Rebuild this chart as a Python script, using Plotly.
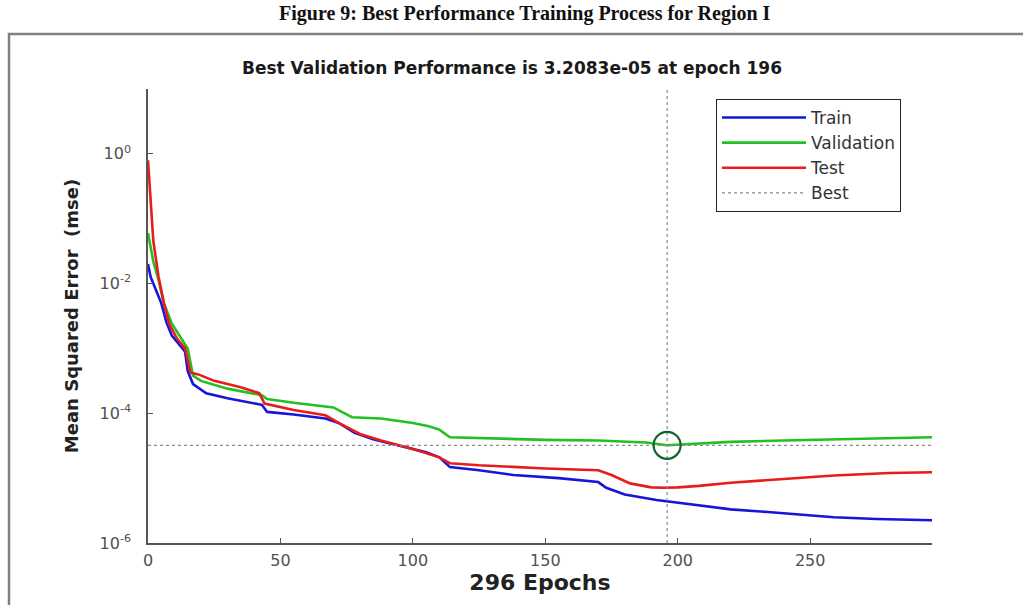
import plotly.graph_objects as go

# Training record (mean squared error per epoch) for the network of Region I
train_epochs = [0, 1, 3, 5, 7, 9, 12, 14, 15, 17, 22, 30, 43, 45, 55, 67, 72, 78, 85, 95,
                105, 110, 114, 125, 138, 155, 170, 173, 180, 192, 200, 208, 220, 234, 259, 275, 296]
train_mse = [2.0e-2, 1.26e-2, 7.94e-3, 5.0e-3, 2.5e-3, 1.58e-3, 1.12e-3, 8.9e-4, 4.47e-4, 2.82e-4,
             2.04e-4, 1.7e-4, 1.35e-4, 1.05e-4, 9.6e-5, 8.3e-5, 7.1e-5, 5.0e-5, 3.98e-5, 3.16e-5,
             2.51e-5, 2.09e-5, 1.48e-5, 1.32e-5, 1.12e-5, 1.0e-5, 8.7e-6, 7.1e-6, 5.6e-6, 4.6e-6,
             4.2e-6, 3.8e-6, 3.3e-6, 3.0e-6, 2.5e-6, 2.34e-6, 2.24e-6]

val_epochs = [0, 1, 2, 4, 6, 9, 12, 15, 17, 20, 30, 43, 45, 55, 70, 77, 88, 100, 106, 110,
              114, 130, 150, 170, 188, 196, 205, 220, 240, 260, 280, 296]
val_mse = [6.0e-2, 3.5e-2, 2.2e-2, 1.12e-2, 5.0e-3, 2.4e-3, 1.58e-3, 1.0e-3, 3.8e-4, 3.16e-4,
           2.4e-4, 1.9e-4, 1.66e-4, 1.45e-4, 1.23e-4, 8.7e-5, 8.3e-5, 7.1e-5, 6.3e-5, 5.6e-5,
           4.27e-5, 4.07e-5, 3.89e-5, 3.8e-5, 3.55e-5, 3.2083e-5, 3.39e-5, 3.63e-5, 3.8e-5, 3.98e-5,
           4.17e-5, 4.27e-5]

test_epochs = [0, 1, 2, 4, 6, 8, 11, 14, 16, 19, 25, 35, 42, 44, 55, 67, 72, 80, 88, 100,
               110, 114, 125, 150, 170, 175, 182, 190, 195, 200, 208, 220, 234, 259, 280, 296]
test_mse = [7.94e-1, 2.0e-1, 4.57e-2, 1.26e-2, 5.0e-3, 2.4e-3, 1.41e-3, 1.0e-3, 4.27e-4, 3.98e-4,
            3.16e-4, 2.51e-4, 2.04e-4, 1.41e-4, 1.12e-4, 9.3e-5, 7.1e-5, 4.8e-5, 3.8e-5, 2.82e-5,
            2.09e-5, 1.7e-5, 1.58e-5, 1.41e-5, 1.32e-5, 1.12e-5, 8.3e-6, 7.2e-6, 7.1e-6, 7.2e-6,
            7.6e-6, 8.5e-6, 9.3e-6, 1.1e-5, 1.2e-5, 1.23e-5]

best_epoch = 196
best_perf = 3.2083e-05
n_epochs = 296

y_tick_vals = [1e-6, 1e-4, 1e-2, 1e0]
y_tick_text = ["10<sup>-6</sup>", "10<sup>-4</sup>", "10<sup>-2</sup>", "10<sup>0</sup>"]
x_tick_vals = [0, 50, 100, 150, 200, 250]

W, H = 1023, 605
ML, MR, MT, MB = 148, 91, 89, 62
PW, PH = W - ML - MR, H - MT - MB


def px(x):
    return (x - ML) / PW


def py(y):
    return (H - MB - y) / PH


SANS = "DejaVu Sans, Verdana, sans-serif"

fig = go.Figure()

fig.add_trace(go.Scatter(x=train_epochs, y=train_mse, mode="lines", name="Train",
                         line=dict(color="#1616d6", width=2.6)))
fig.add_trace(go.Scatter(x=val_epochs, y=val_mse, mode="lines", name="Validation",
                         line=dict(color="#22c022", width=2.6)))
fig.add_trace(go.Scatter(x=test_epochs, y=test_mse, mode="lines", name="Test",
                         line=dict(color="#e81c1c", width=2.6)))
# dotted guide lines through the best validation point
fig.add_trace(go.Scatter(x=[0, n_epochs], y=[best_perf, best_perf], mode="lines", name="Best",
                         line=dict(color="#8a8a8a", width=1.2, dash="dot")))
fig.add_trace(go.Scatter(x=[best_epoch, best_epoch], y=[1e-6, 1e1], mode="lines",
                         showlegend=False, line=dict(color="#8a8a8a", width=1.2, dash="dot")))
fig.add_trace(go.Scatter(x=[best_epoch], y=[best_perf], mode="markers", showlegend=False,
                         marker=dict(symbol="circle-open", size=27, color="#12642c",
                                     line=dict(color="#12642c", width=2.2))))

tick_font = dict(family=SANS, size=16, color="#505050")

fig.update_xaxes(range=[0, n_epochs], tickvals=x_tick_vals, ticks="inside", ticklen=5,
                 tickcolor="#555555", showline=True, linecolor="#555555", linewidth=1.5,
                 showgrid=False, zeroline=False, tickfont=tick_font, ticklabelstandoff=2,
                 title=dict(text="<b>296 Epochs</b>", standoff=4,
                            font=dict(family=SANS, size=22, color="#222222")))
fig.update_yaxes(type="log", range=[-6, 1], tickvals=y_tick_vals, ticktext=y_tick_text,
                 ticks="inside", ticklen=5, tickcolor="#555555", showline=True,
                 linecolor="#555555", linewidth=1.5, showgrid=False, zeroline=False,
                 tickfont=tick_font, ticklabelstandoff=12,
                 title=dict(text="<b>Mean Squared Error  (mse)</b>", standoff=16,
                            font=dict(family=SANS, size=18, color="#222222")))

fig.update_layout(
    width=W, height=H,
    margin=dict(l=ML, r=MR, t=MT, b=MB),
    paper_bgcolor="white", plot_bgcolor="white",
    title=dict(text="<b>Best Validation Performance is 3.2083e-05 at epoch 196</b>",
               x=px(512), xref="paper", xanchor="center", y=1 - 68 / H, yref="container",
               yanchor="middle", font=dict(family=SANS, size=17, color="#1a1a1a")),
    legend=dict(x=px(716), y=py(99), xanchor="left", yanchor="top",
                bgcolor="white", bordercolor="#222222", borderwidth=1,
                itemwidth=84, tracegroupgap=0,
                font=dict(family=SANS, size=17, color="#333333")),
    showlegend=True,
    shapes=[dict(type="rect", xref="paper", yref="paper",
                 x0=px(9), x1=px(1040), y0=py(620), y1=py(34),
                 line=dict(color="#808080", width=2.5), fillcolor="rgba(0,0,0,0)", layer="below")],
    annotations=[dict(text="<b>Figure 9: Best Performance Training Process for Region I</b>",
                      xref="paper", yref="paper", x=px(525), y=py(13), showarrow=False,
                      xanchor="center", yanchor="middle",
                      font=dict(family="Liberation Serif, Times New Roman, serif", size=20,
                                color="#111111"))],
)

fig.write_html("out.html")
